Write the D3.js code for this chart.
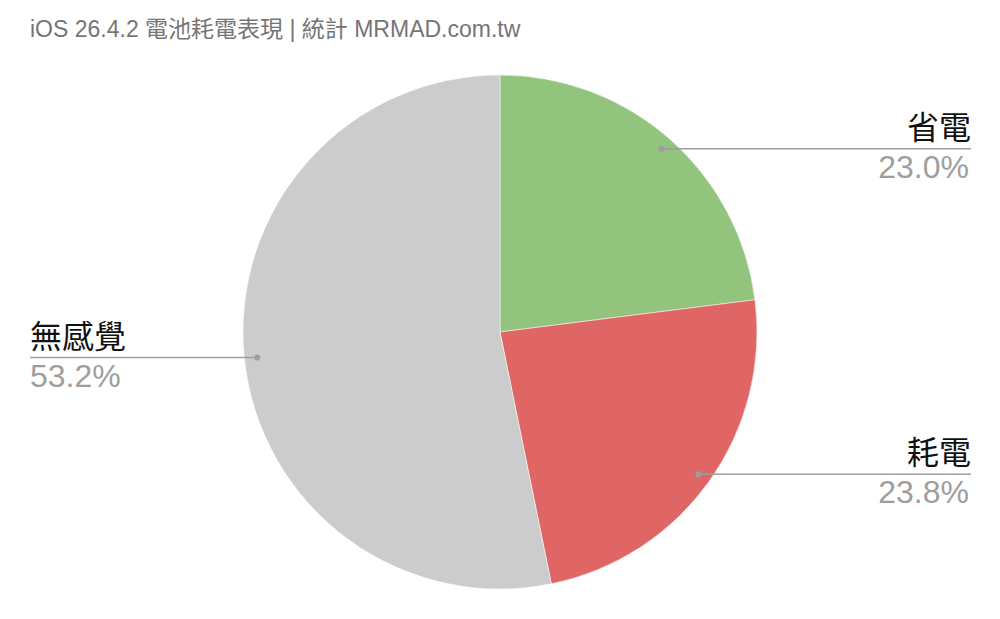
<!DOCTYPE html>
<html><head><meta charset="utf-8">
<script src="https://cdn.jsdelivr.net/npm/d3@7"></script>
<style>body{margin:0;background:#fff}svg{display:block}</style>
</head><body>
<svg id="c" width="1000" height="619"></svg>
<script>
const title = "iOS 26.4.2 電池耗電表現 | 統計 MRMAD.com.tw";
const categories = ["省電", "耗電", "無感覺"];
const values = [23.0, 23.8, 53.2];
const colors = ["#93c47d", "#e06666", "#cccccc"];
// label anchor angle (degrees clockwise from 12 o'clock) as placed in the original; null = slice middle
const labelAngles = [null, null, 264];

const W = 1000, H = 619;
const cx = 500, cy = 332, R = 257;
const font = "'Liberation Sans', Arial, 'Noto Sans CJK TC', sans-serif";
const svg = d3.select("#c");

svg.append("text").attr("x", 30).attr("y", 37)
  .attr("font-family", font).attr("font-size", 23).attr("fill", "#757575")
  .text(title);

const pie = d3.pie().sort(null).value(d => d)(values);
const arc = d3.arc().innerRadius(0).outerRadius(R);
const g = svg.append("g").attr("transform", `translate(${cx},${cy})`);
g.selectAll("path").data(pie).join("path")
  .attr("d", arc).attr("fill", (d, i) => colors[i])
  .attr("stroke", "#fff").attr("stroke-width", 0.5);

const total = d3.sum(values);
const rAnchor = R * 0.95;
pie.forEach((d, i) => {
  const a = labelAngles[i] != null ? labelAngles[i] * Math.PI / 180 : (d.startAngle + d.endAngle) / 2;
  const px = cx + rAnchor * Math.sin(a), py = cy - rAnchor * Math.cos(a);
  const right = px > cx;
  const endX = right ? 971 : 30;
  svg.append("line").attr("x1", px).attr("y1", py).attr("x2", endX).attr("y2", py)
    .attr("stroke", "#9e9e9e").attr("stroke-width", 1.5);
  svg.append("circle").attr("cx", px).attr("cy", py).attr("r", 3).attr("fill", "#9e9e9e");
  const anchor = right ? "end" : "start";
  svg.append("text").attr("x", endX).attr("y", py - 10)
    .attr("text-anchor", anchor).attr("font-family", font).attr("font-size", 32).attr("fill", "#111")
    .text(categories[i]);
  svg.append("text").attr("x", right ? endX - 2 : endX).attr("y", py + 29)
    .attr("text-anchor", anchor).attr("font-family", font).attr("font-size", 32).attr("fill", "#9e9e9e")
    .text((values[i] / total * 100).toFixed(1) + "%");
});
</script>
</body></html>
